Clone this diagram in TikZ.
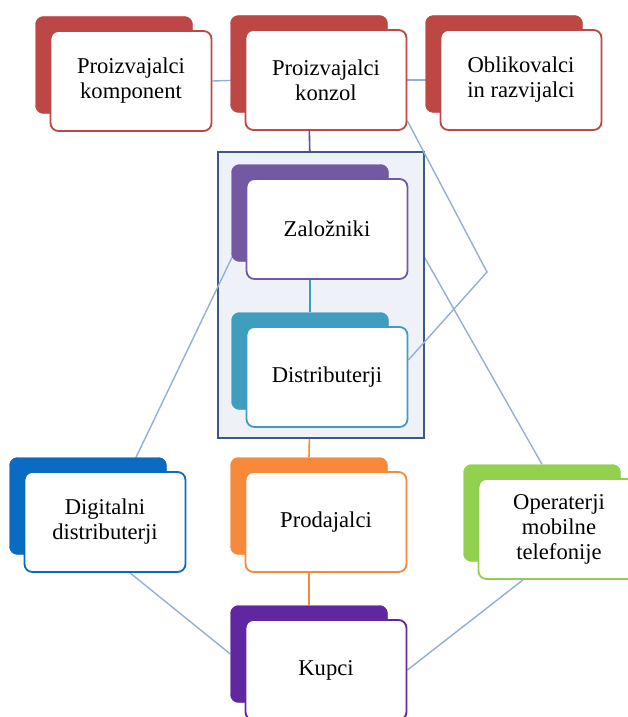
\documentclass[tikz,border=0pt]{standalone}
\usepackage{fontspec}
\setmainfont{Liberation Serif}
\usetikzlibrary{calc}
\definecolor{redc}{HTML}{BD4745}
\definecolor{zalc}{HTML}{7358A3}
\definecolor{distc}{HTML}{3F9EC0}
\definecolor{digc}{HTML}{0A6CC0}
\definecolor{prodc}{HTML}{F6893A}
\definecolor{operc}{HTML}{92D050}
\definecolor{kupc}{HTML}{6027A0}
\definecolor{linkc}{HTML}{93AFD6}
\definecolor{grpfill}{HTML}{EEF2F8}
\definecolor{grpdraw}{HTML}{3A5A85}
\definecolor{konzline}{HTML}{5B4D9E}
\pgfdeclarelayer{under}
\pgfdeclarelayer{panel}
\pgfdeclarelayer{over}
\pgfsetlayers{under,panel,over,main}
% a coloured card with a white card laid over it
\newcommand\stackbox[5]{%
  \node[backcard=#2] (#1b) at ({#3-17},{#4-16}) {};
  \node[frontcard=#2] (#1) at (#3,#4) {#5};}
\begin{document}
\begin{tikzpicture}[x=1pt,y=-1pt,
  backcard/.style={draw=#1, fill=#1, rounded corners=8pt,
    minimum width=157pt, minimum height=97pt, inner sep=0pt},
  frontcard/.style={draw=#1, fill=white, line width=1.8pt, rounded corners=8pt,
    minimum width=161pt, minimum height=100pt, align=center, inner sep=2pt,
    font=\fontsize{22.6}{25}\selectfont},
  link/.style={draw=linkc, line width=1.4pt},
  group/.style={draw=grpdraw, fill=grpfill, line width=2pt,
    minimum width=206pt, minimum height=286pt, inner sep=0pt},
]
\useasboundingbox (0,0) rectangle (628,717);
\clip (0,0) rectangle (628,717);

% cards
\stackbox{comp}{redc}{131}{81}{Proizvajalci\\komponent}
\stackbox{konz}{redc}{326}{80}{Proizvajalci\\konzol}
\stackbox{obl}{redc}{521}{80}{Oblikovalci\\in razvijalci}
\stackbox{zal}{zalc}{327}{229}{Založniki}
\stackbox{dist}{distc}{327}{377}{Distributerji}
\stackbox{dig}{digc}{105}{522}{Digitalni\\distributerji}
\stackbox{prod}{prodc}{326}{522}{Prodajalci}
\stackbox{oper}{operc}{559}{529}{Operaterji\\mobilne\\telefonije}
\stackbox{kup}{kupc}{326}{670}{Kupci}

% panel around publishers and distributors
\begin{pgfonlayer}{panel}
  \node[group] (grp) at (321,295) {};
\end{pgfonlayer}

% connectors hidden by the panel
\begin{pgfonlayer}{under}
  \draw[konzline, line width=1.6pt] (konzb.south) -- (zalb.north);
  \draw[prodc, line width=1.6pt] (distb.south) -- (prodb.north);
  \draw[link] (zal.east) -- (operb.north);
\end{pgfonlayer}

% connectors over the panel
\begin{pgfonlayer}{over}
  \coordinate (bend) at (487,272);
  \draw[link] (comp.east) -- (konz.west);
  \draw[link] (konz.east) -- (obl.west);
  \draw[link] ($(konz.south east)+(0,-10)$) -- (bend) -- ($(dist.east)+(0,-17)$);
  \draw[distc, line width=1.6pt] (zalb.south) -- (distb.north);
  \draw[prodc, line width=1.6pt] (prodb.south) -- (kupb.north);
  \draw[link] (dig.center) -- (zal.west);
  \draw[link] ($(dig.south)+(25,0)$) -- (kupb.west);
  \draw[link] ($(oper.south)+(-36,0)$) -- (kup.east);
\end{pgfonlayer}
\end{tikzpicture}
\end{document}
